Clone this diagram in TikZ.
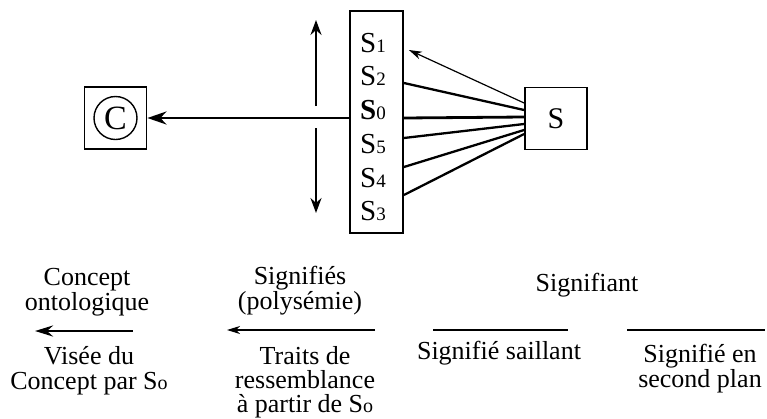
\documentclass[tikz,border=0pt]{standalone}
\usepackage{fontspec}
\setmainfont{Liberation Serif}
\usepackage{tikz}
\usetikzlibrary{positioning, arrows.meta}

\newcommand{\idx}[1]{{\fontsize{19}{19}\selectfont #1}}
\newcommand{\zero}{{\fontsize{20}{20}\selectfont o}}

\begin{document}
\begin{tikzpicture}[
    x=1pt, y=-1pt,
    every node/.style={inner sep=0pt},
    sqbox/.style={rectangle, draw, line width=1.8pt,
                  minimum width=62pt, minimum height=62pt,
                  font=\fontsize{30}{30}\selectfont},
    stackbox/.style={rectangle, draw, line width=1.8pt,
                     minimum width=53pt, minimum height=222pt},
    row/.style={anchor=base west, font=\fontsize{29}{29}\selectfont},
    legend/.style={anchor=north, align=center, font=\fontsize{26}{25}\selectfont},
    mainarrow/.style={-{Stealth[length=19pt, width=13pt, inset=6pt]}, line width=2.8pt},
    vertarrow/.style={-{Stealth[length=15pt, width=11pt, inset=5pt]}, line width=2.3pt},
    thinarrow/.style={-{Stealth[length=13pt, width=8pt, inset=4pt]}, line width=1.2pt},
    fanline/.style={line width=2.3pt},
  ]
    \useasboundingbox (0,0) rectangle (767,418);

    % Concept box
    \node[sqbox] (C_BOX) at (115.5,118) {};
    \node[circle, draw, line width=1.4pt, minimum size=43pt,
          font=\fontsize{34}{34}\selectfont] (C_MARK) at (C_BOX) {C};

    % Stack of signifieds
    \node[stackbox] (STACK) at (376.5,122) {};
    \node[row] (S1) at (360,52) {S\idx{1}};
    \node[row] (S2) at (360,85.5) {S\idx{2}};
    \node[row] (S0) at (360,119) {\textbf{S}\idx{0}};
    \node[row] (S5) at (360,153) {S\idx{5}};
    \node[row] (S4) at (360,187) {S\idx{4}};
    \node[row] (S3) at (360,220) {S\idx{3}};

    % Signifier
    \node[sqbox] (SIG) at (556,118.5) {S};

    % Up / down shift
    \coordinate (V_TOP) at (316,20);
    \coordinate (V_UP) at (316,106);
    \coordinate (V_DN) at (316,128);
    \coordinate (V_BOT) at (316,213);
    \draw[vertarrow] (V_UP) -- (V_TOP);
    \draw[vertarrow] (V_DN) -- (V_BOT);

    \draw[mainarrow] (STACK.west |- C_BOX) -- (C_BOX.east);

    % Fan from the signifier
    \draw[thinarrow] ([yshift=15.5pt]SIG.west) -- ([xshift=5pt, yshift=72pt]STACK.east);
    \draw[fanline] ([yshift=39pt]STACK.east) -- ([yshift=8.5pt]SIG.west);
    \draw[fanline, line width=2.8pt] ([yshift=4pt]STACK.east) -- ([yshift=1.5pt]SIG.west);
    \draw[fanline] ([yshift=-16pt]STACK.east) -- ([yshift=-5.5pt]SIG.west);
    \draw[fanline] ([yshift=-45pt]STACK.east) -- ([yshift=-11.5pt]SIG.west);
    \draw[fanline] ([yshift=-73pt]STACK.east) -- ([yshift=-15.5pt]SIG.west);

    % Legend
    \node[legend] (ONTO) at (87,268) {Concept\\ontologique};
    \coordinate (L1_A) at (133,331);
    \coordinate (L1_B) at (35,331);
    \draw[mainarrow, {Stealth[length=18pt, width=11pt, inset=6pt]}-] (L1_B) -- (L1_A);
    \node[legend] (VISEE) at (89,346) {Visée du\\Concept par S\zero};

    \node[legend] (POLY) at (300,266) {Signifiés\\(polysémie)};
    \coordinate (L2_A) at (375,330);
    \coordinate (L2_B) at (227,330);
    \draw[thinarrow] (L2_A) -- (L2_B);
    \node[legend, font=\fontsize{26}{24}\selectfont] (TRAITS) at (305,346)
      {Traits de\\ressemblance\\à partir de S\zero};

    \node[legend] (SIGNIF) at (587,273) {Signifiant};
    \coordinate (L3_A) at (433,330);
    \coordinate (L3_B) at (568,330);
    \draw[line width=2.8pt] (L3_A) -- (L3_B);
    \node[legend] (SAIL) at (499,341) {Signifié saillant};

    \coordinate (L4_A) at (627,330);
    \coordinate (L4_B) at (765,330);
    \draw[line width=1.3pt] (L4_A) -- (L4_B);
    \node[legend] (SECOND) at (700,344) {Signifié en\\second plan};
\end{tikzpicture}
\end{document}
